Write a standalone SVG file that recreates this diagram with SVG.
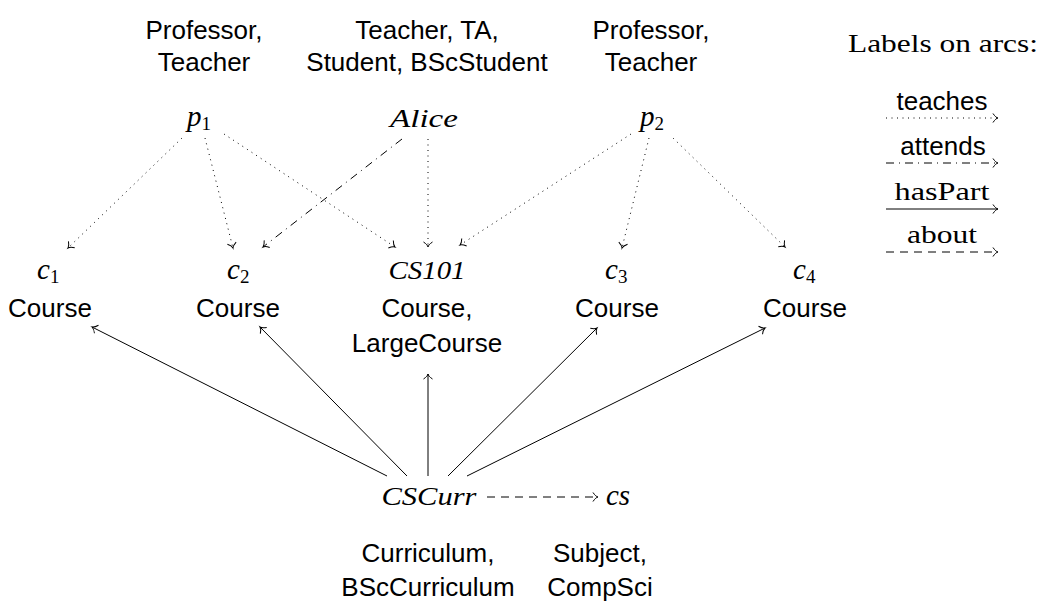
<svg xmlns="http://www.w3.org/2000/svg" width="1040" height="606" viewBox="0 0 1040 606">
<style>
.sans{font-family:"Liberation Sans",Arial,sans-serif;font-size:26px;fill:#000}
.it{font-family:"Liberation Serif","Times New Roman",serif;font-style:italic;font-size:26px;fill:#000}
.var{font-size:29px}
.rm{font-family:"Liberation Serif","Times New Roman",serif;font-size:25px;fill:#000}
.sub{font-family:"Liberation Serif","Times New Roman",serif;font-style:normal;font-size:19px}
.e{fill:none;stroke:#000;stroke-width:1}
.teach{stroke-dasharray:1 4.5}
.att{stroke-dasharray:8 5 1 5}
.about{stroke-dasharray:8 6}
</style>
<defs>
<marker id="to" markerUnits="userSpaceOnUse" markerWidth="14" markerHeight="14" viewBox="-8 -7 10 14" refX="0" refY="0" orient="auto">
<path d="M-5,-4.5 C-3,-1.5 -1.5,-0.4 0,0 C-1.5,0.4 -3,1.5 -5,4.5" fill="none" stroke="#000" stroke-width="1"/>
</marker>
</defs>
<g id="connectors">
<line class="e teach" x1="182" y1="138" x2="68" y2="248" marker-end="url(#to)"/>
<line class="e teach" x1="205" y1="138" x2="233" y2="248" marker-end="url(#to)"/>
<line class="e teach" x1="224" y1="134" x2="395" y2="247" marker-end="url(#to)"/>
<line class="e teach" x1="428" y1="139" x2="428" y2="247" marker-end="url(#to)"/>
<line class="e teach" x1="631" y1="134" x2="460" y2="245" marker-end="url(#to)"/>
<line class="e teach" x1="649" y1="138" x2="622" y2="248" marker-end="url(#to)"/>
<line class="e teach" x1="673" y1="138" x2="785" y2="247" marker-end="url(#to)"/>
<line class="e att" x1="402" y1="139" x2="263" y2="247" marker-end="url(#to)"/>
<line class="e" x1="387" y1="476" x2="92" y2="327" marker-end="url(#to)"/>
<line class="e" x1="407" y1="476" x2="260" y2="327" marker-end="url(#to)"/>
<line class="e" x1="428" y1="476" x2="428" y2="374" marker-end="url(#to)"/>
<line class="e" x1="448" y1="476" x2="597" y2="328" marker-end="url(#to)"/>
<line class="e" x1="467" y1="476" x2="765" y2="328" marker-end="url(#to)"/>
<line class="e about" x1="487" y1="497" x2="598" y2="497" marker-end="url(#to)"/>
</g>
<g id="p1">
<text class="sans" x="204" y="39" text-anchor="middle">Professor,</text>
<text class="sans" x="204" y="71" text-anchor="middle">Teacher</text>
<text class="it var" x="187" y="126">p<tspan class="sub" dy="4">1</tspan></text>
</g>
<g id="alice">
<text class="sans" x="427" y="39" text-anchor="middle">Teacher, TA,</text>
<text class="sans" x="427" y="71" text-anchor="middle">Student, BScStudent</text>
<text class="it" x="424" y="127" text-anchor="middle" textLength="68" lengthAdjust="spacingAndGlyphs">Alice</text>
</g>
<g id="p2">
<text class="sans" x="651" y="39" text-anchor="middle">Professor,</text>
<text class="sans" x="651" y="71" text-anchor="middle">Teacher</text>
<text class="it var" x="640" y="126">p<tspan class="sub" dy="4">2</tspan></text>
</g>
<g id="c1">
<text class="it var" x="37" y="279">c<tspan class="sub" dy="4">1</tspan></text>
<text class="sans" x="50" y="317" text-anchor="middle">Course</text>
</g>
<g id="c2">
<text class="it var" x="227" y="279">c<tspan class="sub" dy="4">2</tspan></text>
<text class="sans" x="238" y="317" text-anchor="middle">Course</text>
</g>
<g id="cs101">
<text class="it" x="427" y="279" text-anchor="middle" textLength="77" lengthAdjust="spacingAndGlyphs">CS101</text>
<text class="sans" x="427" y="317" text-anchor="middle">Course,</text>
<text class="sans" x="427" y="352" text-anchor="middle">LargeCourse</text>
</g>
<g id="c3">
<text class="it var" x="605" y="279">c<tspan class="sub" dy="4">3</tspan></text>
<text class="sans" x="617" y="317" text-anchor="middle">Course</text>
</g>
<g id="c4">
<text class="it var" x="793" y="279">c<tspan class="sub" dy="4">4</tspan></text>
<text class="sans" x="805" y="317" text-anchor="middle">Course</text>
</g>
<g id="cscurr">
<text class="it" x="429" y="505" text-anchor="middle" textLength="95" lengthAdjust="spacingAndGlyphs">CSCurr</text>
<text class="sans" x="428" y="562" text-anchor="middle">Curriculum,</text>
<text class="sans" x="428" y="596" text-anchor="middle">BScCurriculum</text>
</g>
<g id="cs">
<text class="it var" x="606" y="505">cs</text>
<text class="sans" x="600" y="562" text-anchor="middle">Subject,</text>
<text class="sans" x="600" y="596" text-anchor="middle">CompSci</text>
</g>
<g id="legend">
<text class="rm" x="848" y="52" textLength="190" lengthAdjust="spacingAndGlyphs">Labels on arcs:</text>
<text class="sans" x="942" y="110" text-anchor="middle">teaches</text>
<line class="e teach" x1="886" y1="118" x2="998" y2="118" marker-end="url(#to)"/>
<text class="sans" x="943" y="155" text-anchor="middle">attends</text>
<line class="e att" x1="886" y1="163" x2="998" y2="163" marker-end="url(#to)"/>
<text class="rm" x="942" y="200" text-anchor="middle" textLength="95" lengthAdjust="spacingAndGlyphs">hasPart</text>
<line class="e" x1="886" y1="209" x2="998" y2="209" marker-end="url(#to)"/>
<text class="rm" x="942" y="243" text-anchor="middle" textLength="70" lengthAdjust="spacingAndGlyphs">about</text>
<line class="e about" x1="886" y1="252" x2="998" y2="252" marker-end="url(#to)"/>
</g>
</svg>
